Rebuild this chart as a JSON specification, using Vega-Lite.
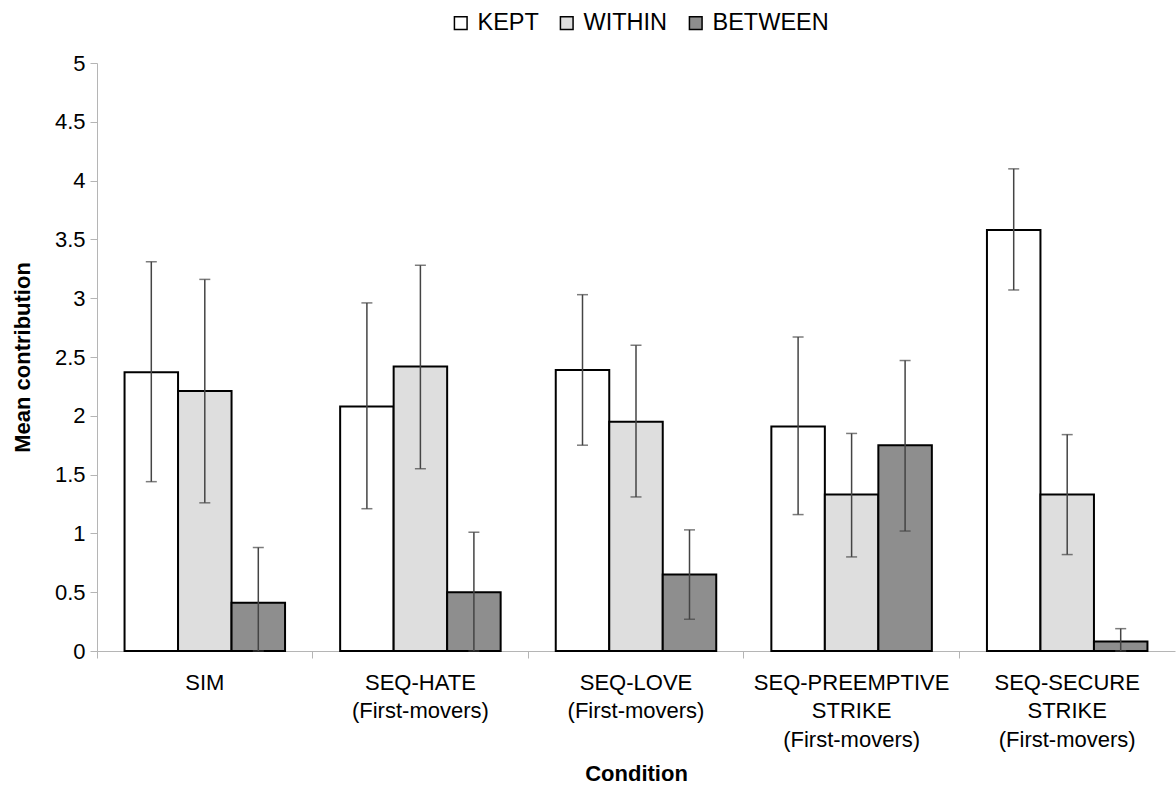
{
  "$schema": "https://vega.github.io/schema/vega-lite/v6.json",
  "width": 1078,
  "height": 588,
  "autosize": "none",
  "padding": {"left": 97, "top": 63, "right": 1, "bottom": 139},
  "background": "white",
  "config": {
    "view": {"stroke": null},
    "font": "Liberation Sans",
    "axis": {"grid": false, "domainColor": "#b5b5b5", "tickColor": "#b5b5b5", "labelFont": "Liberation Sans", "titleFont": "Liberation Sans", "labelColor": "#000", "titleColor": "#000"}
  },
  "data": {
    "values": [
      {"cond": "SIM", "series": "KEPT", "value": 2.37, "low": 1.44, "high": 3.31},
      {"cond": "SIM", "series": "WITHIN", "value": 2.21, "low": 1.26, "high": 3.16},
      {"cond": "SIM", "series": "BETWEEN", "value": 0.41, "low": 0, "high": 0.88},
      {"cond": "SEQ-HATE|(First-movers)", "series": "KEPT", "value": 2.08, "low": 1.21, "high": 2.96},
      {"cond": "SEQ-HATE|(First-movers)", "series": "WITHIN", "value": 2.42, "low": 1.55, "high": 3.28},
      {"cond": "SEQ-HATE|(First-movers)", "series": "BETWEEN", "value": 0.5, "low": 0, "high": 1.01},
      {"cond": "SEQ-LOVE|(First-movers)", "series": "KEPT", "value": 2.39, "low": 1.75, "high": 3.03},
      {"cond": "SEQ-LOVE|(First-movers)", "series": "WITHIN", "value": 1.95, "low": 1.31, "high": 2.6},
      {"cond": "SEQ-LOVE|(First-movers)", "series": "BETWEEN", "value": 0.65, "low": 0.27, "high": 1.03},
      {"cond": "SEQ-PREEMPTIVE|STRIKE|(First-movers)", "series": "KEPT", "value": 1.91, "low": 1.16, "high": 2.67},
      {"cond": "SEQ-PREEMPTIVE|STRIKE|(First-movers)", "series": "WITHIN", "value": 1.33, "low": 0.8, "high": 1.85},
      {"cond": "SEQ-PREEMPTIVE|STRIKE|(First-movers)", "series": "BETWEEN", "value": 1.75, "low": 1.02, "high": 2.47},
      {"cond": "SEQ-SECURE|STRIKE|(First-movers)", "series": "KEPT", "value": 3.58, "low": 3.07, "high": 4.1},
      {"cond": "SEQ-SECURE|STRIKE|(First-movers)", "series": "WITHIN", "value": 1.33, "low": 0.82, "high": 1.84},
      {"cond": "SEQ-SECURE|STRIKE|(First-movers)", "series": "BETWEEN", "value": 0.08, "low": 0, "high": 0.19}
    ]
  },
  "encoding": {
    "x": {
      "field": "cond", "type": "nominal", "sort": null,
      "scale": {"paddingInner": 0, "paddingOuter": 0},
      "axis": {
        "title": "Condition", "titleFontSize": 22, "titleFontWeight": "bold", "titlePadding": 13,
        "labelAngle": 0, "labelFontSize": 22, "labelPadding": 14, "labelLineHeight": 28.5, "labelLimit": 400,
        "labelExpr": "split(datum.label, '|')", "bandPosition": 0, "tickSize": 7,
        "labelBaseline": "top"
      }
    },
    "xOffset": {"field": "series", "type": "nominal", "sort": ["KEPT", "WITHIN", "BETWEEN"], "scale": {"paddingInner": 0, "paddingOuter": 0.515}}
  },
  "layer": [
    {
      "mark": {"type": "bar", "stroke": "#000", "strokeWidth": 2},
      "encoding": {
        "y": {
          "field": "value", "type": "quantitative",
          "scale": {"domain": [0, 5]},
          "axis": {"title": "Mean contribution", "titleFontSize": 22, "titleFontWeight": "bold", "titlePadding": 20,
                   "labelFontSize": 22, "values": [0, 0.5, 1, 1.5, 2, 2.5, 3, 3.5, 4, 4.5, 5], "format": "~g", "labelOverlap": false, "tickSize": 7, "labelPadding": 5}
        },
        "fill": {
          "field": "series", "type": "nominal",
          "sort": ["KEPT", "WITHIN", "BETWEEN"],
          "scale": {"domain": ["KEPT", "WITHIN", "BETWEEN"], "range": ["#ffffff", "#dedede", "#8e8e8e"]},
          "legend": {
            "title": null, "orient": "none", "direction": "horizontal",
            "legendX": 352, "legendY": -52,
            "symbolType": "square", "symbolSize": 160, "symbolStrokeColor": "#000", "symbolStrokeWidth": 1.5,
            "labelFontSize": 23.5, "labelOffset": 5, "columnPadding": 16, "labelColor": "#000"
          }
        }
      }
    },
    {
      "mark": {"type": "rule", "color": "#444", "strokeWidth": 1.5},
      "encoding": {
        "y": {"field": "low", "type": "quantitative",
              "axis": {"title": "Mean contribution", "titleFontSize": 22, "titleFontWeight": "bold", "titlePadding": 20,
                   "labelFontSize": 22, "values": [0, 0.5, 1, 1.5, 2, 2.5, 3, 3.5, 4, 4.5, 5], "format": "~g", "labelOverlap": false, "tickSize": 7, "labelPadding": 5}},
        "y2": {"field": "high"}
      }
    },
    {
      "mark": {"type": "tick", "color": "#444", "thickness": 1.5, "size": 11},
      "encoding": {"y": {"field": "low", "type": "quantitative",
              "axis": {"title": "Mean contribution", "titleFontSize": 22, "titleFontWeight": "bold", "titlePadding": 20,
                   "labelFontSize": 22, "values": [0, 0.5, 1, 1.5, 2, 2.5, 3, 3.5, 4, 4.5, 5], "format": "~g", "labelOverlap": false, "tickSize": 7, "labelPadding": 5}}}
    },
    {
      "mark": {"type": "tick", "color": "#444", "thickness": 1.5, "size": 11},
      "encoding": {"y": {"field": "high", "type": "quantitative",
              "axis": {"title": "Mean contribution", "titleFontSize": 22, "titleFontWeight": "bold", "titlePadding": 20,
                   "labelFontSize": 22, "values": [0, 0.5, 1, 1.5, 2, 2.5, 3, 3.5, 4, 4.5, 5], "format": "~g", "labelOverlap": false, "tickSize": 7, "labelPadding": 5}}}
    }
  ]
}
